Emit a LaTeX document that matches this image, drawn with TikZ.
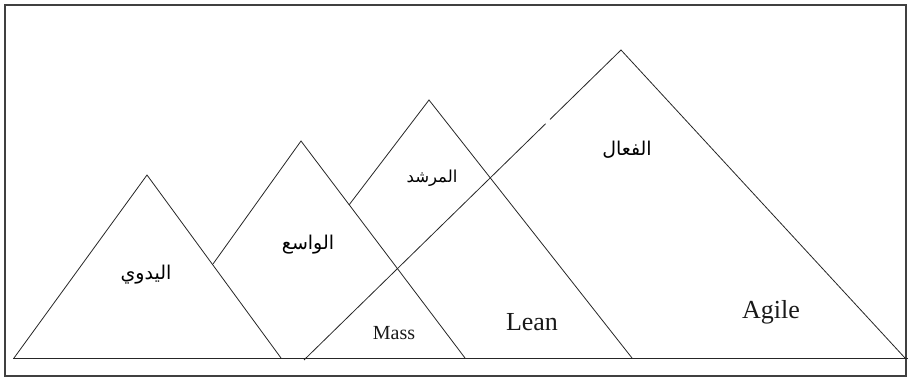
\documentclass[tikz,border=0pt]{standalone}
\usepackage{fontspec}
\setmainfont{Liberation Serif}
\newfontfamily\arabicfont[Script=Arabic]{DejaVu Sans}
\TeXXeTstate=1
\usetikzlibrary{calc}
\tikzset{
  edge/.style={draw=black!85, line width=0.8pt},
  frame/.style={draw=black!75, line width=1.3pt},
  arlabel/.style={inner sep=0pt, font=\arabicfont\fontsize{19}{21}\selectfont},
  enlabel/.style={inner sep=0pt, anchor=base, text=black!90}
}
\begin{document}
\begin{tikzpicture}[x=1pt,y=-1pt]
\useasboundingbox (0,0) rectangle (908,379);
\draw[frame] (5,5) rectangle (906,376);
% base line
\coordinate (bl) at (13,358);
\coordinate (br) at (908,358);
\draw[edge] (bl) -- (br);
% triangle 1
\coordinate (b1l) at (14,358);
\coordinate (a1) at (147,175);
\coordinate (b1r) at (281,358);
\draw[edge] (b1l) -- (a1) -- (b1r);
% triangle 2
\coordinate (j12) at (213,264);
\coordinate (a2) at (301,141);
\coordinate (b2r) at (465,358);
\draw[edge] (j12) -- (a2) -- (b2r);
% triangle 3
\coordinate (j23) at (349,205);
\coordinate (a3) at (429,100);
\coordinate (b3r) at (632,358);
\draw[edge] (j23) -- (a3) -- (b3r);
% triangle 4
\coordinate (b4l) at (304,360);
\coordinate (a4) at (621,50);
\coordinate (b4r) at (905,358);
\coordinate (g1) at ($(b4l)!0.762!(a4)$);
\coordinate (g2) at ($(b4l)!0.776!(a4)$);
\draw[edge] (b4l) -- (g1);
\draw[edge] (g2) -- (a4) -- (b4r);
% labels
\node[arlabel] (t1) at (146,275) {\beginR اليدوي\endR};
\node[arlabel] (t2) at (308,245) {\beginR الواسع\endR};
\node[arlabel, font=\arabicfont\fontsize{16.5}{18}\selectfont] (t3) at (432,178) {\beginR المرشد\endR};
\node[arlabel] (t4) at (627,150) {\beginR الفعال\endR};
\node[enlabel, font=\fontsize{20}{22}\selectfont] (mass) at (394,340) {Mass};
\node[enlabel, font=\fontsize{26}{28}\selectfont] (lean) at (532,331) {Lean};
\node[enlabel, font=\fontsize{26}{28}\selectfont] (agile) at (771,319) {Agile};
\end{tikzpicture}
\end{document}
